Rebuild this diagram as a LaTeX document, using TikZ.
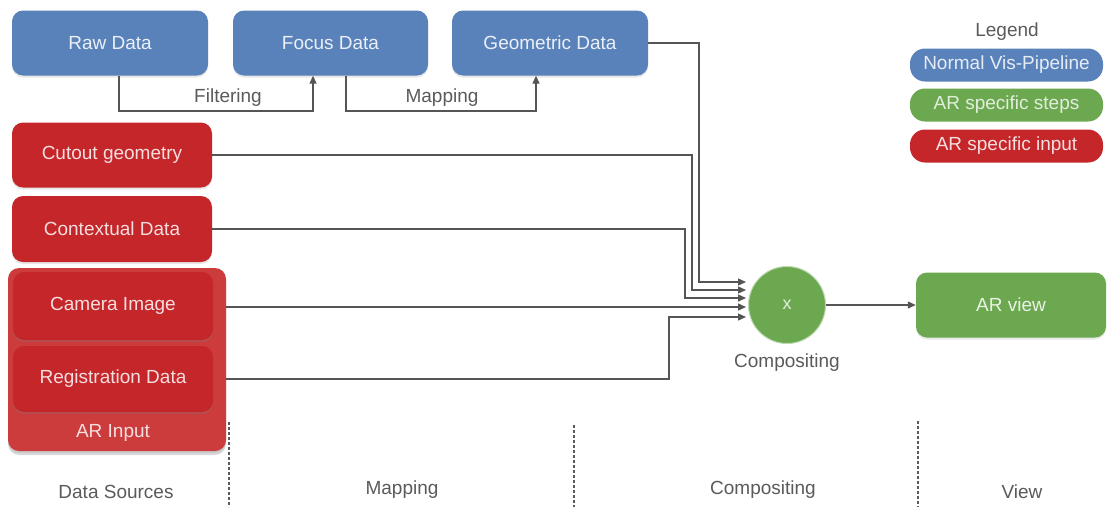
\documentclass[tikz,border=0pt]{standalone}
\usepackage{fontspec}
\setmainfont{Liberation Sans}
\usetikzlibrary{arrows.meta,shadows,positioning}

\definecolor{pipeblue}{RGB}{90,130,186}
\definecolor{arred}{RGB}{196,38,42}
\definecolor{arredlight}{RGB}{204,60,60}
\definecolor{argreen}{RGB}{108,168,80}
\definecolor{wire}{RGB}{85,85,85}
\definecolor{labelgray}{RGB}{90,90,90}

\tikzset{
  box/.style={rounded corners=11pt, minimum height=65pt, inner sep=0pt,
    font=\fontsize{19}{22}\selectfont,
    drop shadow={opacity=0.18, shadow xshift=0pt, shadow yshift=-2pt}},
  bluebox/.style={box, fill=pipeblue, text=white!88!pipeblue},
  redbox/.style={box, fill=arred, text=white!85!arred},
  greenbox/.style={box, fill=argreen, text=white!85!argreen},
  pill/.style={rounded corners=15pt, minimum width=193pt, minimum height=33pt,
    inner sep=0pt, font=\fontsize{19}{22}\selectfont},
  wirelabel/.style={text=labelgray, font=\fontsize{19}{22}\selectfont, inner sep=0pt},
  flow/.style={draw=wire, line width=1.3pt,
    -{Triangle[length=8pt,width=7pt]}},
  divider/.style={draw=labelgray, line width=1.2pt, dash pattern=on 2.5pt off 2.5pt}
}

\begin{document}
\begin{tikzpicture}[x=1pt, y=-1pt]
  \useasboundingbox (0,0) rectangle (1107,507);

  % vis-pipeline stages
  \node[bluebox, minimum width=196pt] (raw)   at (110,43)  {Raw Data};
  \node[bluebox, minimum width=195pt] (focus) at (330.5,43) {Focus Data};
  \node[bluebox, minimum width=196pt] (geo)   at (550,43)  {Geometric Data};

  % AR inputs
  \node[redbox, minimum width=200pt] (cut) at (112,155) {Cutout geometry};
  \node[redbox, minimum width=200pt, minimum height=66pt] (ctx) at (112,229) {Contextual Data};

  \node[box, fill=arredlight, minimum width=218pt, minimum height=183pt,
        drop shadow={opacity=0.3, shadow xshift=0pt, shadow yshift=-4pt}] (arin) at (117,359.5) {};
  \node[redbox, minimum width=200pt, minimum height=68pt, drop shadow={opacity=0.12, shadow xshift=0pt, shadow yshift=-2pt}] (cam) at (113,306) {Camera Image};
  \node[redbox, minimum width=200pt, minimum height=66pt, drop shadow={opacity=0.12, shadow xshift=0pt, shadow yshift=-2pt}] (reg) at (113,379) {Registration Data};
  \node[text=white!85!arred, font=\fontsize{19}{22}\selectfont] (arlabel) at (113,433) {AR Input};

  % compositing and view
  \node[circle, fill=argreen, draw=argreen!45, line width=1pt, minimum size=77pt, inner sep=0pt,
        text=white!80!argreen, font=\fontsize{18}{20}\selectfont] (comp) at (787,305) {x};
  \node[wirelabel, below=10pt of comp] (complabel) {Compositing};
  \node[greenbox, minimum width=190pt] (view) at (1011,305) {AR view};

  % legend
  \node[wirelabel] (legtitle) at (1007,32) {Legend};
  \node[pill, fill=pipeblue, text=white!85!pipeblue] (leg1) at (1006.5,65) {Normal Vis-Pipeline};
  \node[pill, fill=argreen, text=white!80!argreen] (leg2) at (1006.5,105) {AR specific steps};
  \node[pill, fill=arred, text=white!85!arred] (leg3) at (1006.5,146) {AR specific input};

  % filtering and mapping steps
  \coordinate (f1) at (119,111);
  \coordinate (f2) at (313,111);
  \draw[flow] (raw.south -| f1) |- (f2) -- (focus.south -| f2);
  \node[wirelabel] (filtlabel) at (228,98) {Filtering};

  \coordinate (m1) at (346,111);
  \coordinate (m2) at (536,111);
  \draw[flow] (focus.south -| m1) |- (m2) -- (geo.south -| m2);
  \node[wirelabel] (maplabel) at (442,98) {Mapping};

  % inputs merging into compositing
  \coordinate (g1) at (699,282);
  \coordinate (g2) at (746,282);
  \coordinate (c1) at (692,290);
  \coordinate (c2) at (746,290);
  \coordinate (x1) at (685,298);
  \coordinate (x2) at (746,298);
  \coordinate (a2) at (746,307);
  \coordinate (r1) at (669,317);
  \coordinate (r2) at (746,317);

  \draw[flow] (geo.east) -| (g1) -- (g2);
  \draw[flow] (cut.east) -| (c1) -- (c2);
  \draw[flow] (ctx.east) -| (x1) -- (x2);
  \draw[flow] (arin.east |- a2) -- (a2);
  \draw[flow] (arin.east |- reg) -| (r1) -- (r2);

  \draw[flow] (comp.east) -- (view.west);

  % stage dividers
  \coordinate (d1t) at (229,422);
  \coordinate (d1b) at (229,507);
  \coordinate (d2t) at (574,425);
  \coordinate (d2b) at (574,507);
  \coordinate (d3t) at (918,421);
  \coordinate (d3b) at (918,507);
  \draw[divider] (d1t) -- (d1b);
  \draw[divider] (d2t) -- (d2b);
  \draw[divider] (d3t) -- (d3b);

  % stage names
  \node[wirelabel] (s1) at (116,492) {Data Sources};
  \node[wirelabel] (s2) at (402,490) {Mapping};
  \node[wirelabel] (s3) at (763,490) {Compositing};
  \node[wirelabel] (s4) at (1022,492) {View};
\end{tikzpicture}
\end{document}
